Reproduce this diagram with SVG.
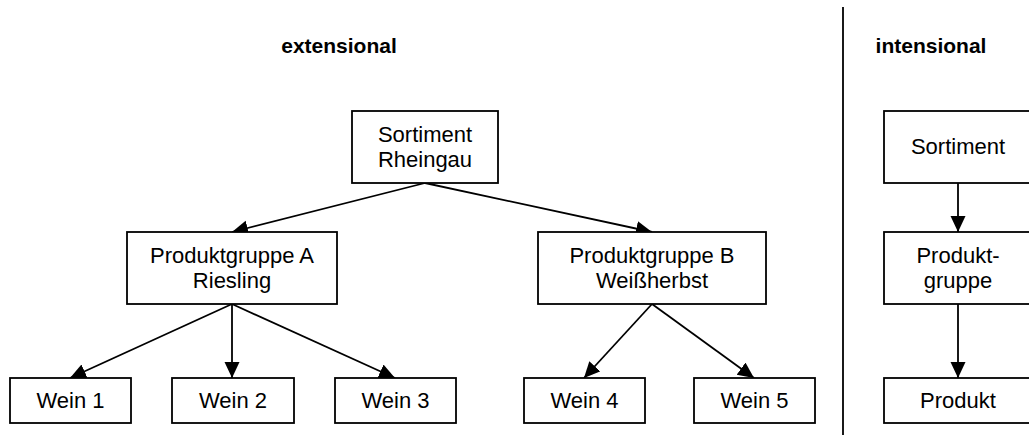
<svg xmlns="http://www.w3.org/2000/svg" width="1029" height="435" viewBox="0 0 1029 435">
<style>
.box{fill:#fff;stroke:#000;stroke-width:1.8}
.t{font-family:"Liberation Sans",Arial,sans-serif;font-size:22px;fill:#000;text-anchor:middle}
.h{font-family:"Liberation Sans",Arial,sans-serif;font-size:21px;font-weight:bold;fill:#000;text-anchor:middle}
.c{stroke:#000;stroke-width:1.8;fill:none;marker-end:url(#ah)}
</style>
<defs>
<marker id="ah" markerUnits="userSpaceOnUse" markerWidth="18" markerHeight="16" refX="16" refY="7.5" orient="auto">
<path d="M0,0 L16,7.5 L0,15 z" fill="#000"/>
</marker>
</defs>
<rect width="1029" height="435" fill="#fff"/>
<line x1="843" y1="7" x2="843" y2="435" stroke="#000" stroke-width="1.8"/>
<text class="h" x="339" y="53">extensional</text>
<text class="h" x="931" y="53">intensional</text>
<g id="connectors">
<line class="c" x1="425" y1="183" x2="232" y2="232"/>
<line class="c" x1="425" y1="183" x2="652" y2="232"/>
<line class="c" x1="232" y1="304" x2="70" y2="378"/>
<line class="c" x1="232" y1="304" x2="232" y2="378"/>
<line class="c" x1="232" y1="304" x2="395" y2="378"/>
<line class="c" x1="652" y1="304" x2="584" y2="378"/>
<line class="c" x1="652" y1="304" x2="754" y2="378"/>
<line class="c" x1="958" y1="183" x2="958" y2="232"/>
<line class="c" x1="958" y1="304" x2="958" y2="378"/>
</g>
<g id="sortiment-rheingau"><rect class="box" x="352" y="111" width="146" height="72"/><text class="t" x="425" y="142">Sortiment</text><text class="t" x="425" y="167">Rheingau</text></g>
<g id="produktgruppe-a"><rect class="box" x="127" y="232" width="210" height="72"/><text class="t" x="232" y="263">Produktgruppe A</text><text class="t" x="232" y="288">Riesling</text></g>
<g id="produktgruppe-b"><rect class="box" x="538" y="232" width="228" height="72"/><text class="t" x="652" y="263">Produktgruppe B</text><text class="t" x="652" y="288">Weißherbst</text></g>
<g id="wein1"><rect class="box" x="10" y="378" width="121" height="45"/><text class="t" x="70.5" y="408">Wein 1</text></g>
<g id="wein2"><rect class="box" x="172" y="378" width="122" height="45"/><text class="t" x="233" y="408">Wein 2</text></g>
<g id="wein3"><rect class="box" x="335" y="378" width="121" height="45"/><text class="t" x="395.5" y="408">Wein 3</text></g>
<g id="wein4"><rect class="box" x="524" y="378" width="121" height="45"/><text class="t" x="584.5" y="408">Wein 4</text></g>
<g id="wein5"><rect class="box" x="694" y="378" width="121" height="45"/><text class="t" x="754.5" y="408">Wein 5</text></g>
<g id="sortiment"><rect class="box" x="884" y="111" width="148" height="72"/><text class="t" x="958" y="154">Sortiment</text></g>
<g id="produktgruppe"><rect class="box" x="884" y="232" width="148" height="72"/><text class="t" x="958" y="263">Produkt-</text><text class="t" x="958" y="288">gruppe</text></g>
<g id="produkt"><rect class="box" x="884" y="378" width="148" height="45"/><text class="t" x="958" y="408">Produkt</text></g>
</svg>
